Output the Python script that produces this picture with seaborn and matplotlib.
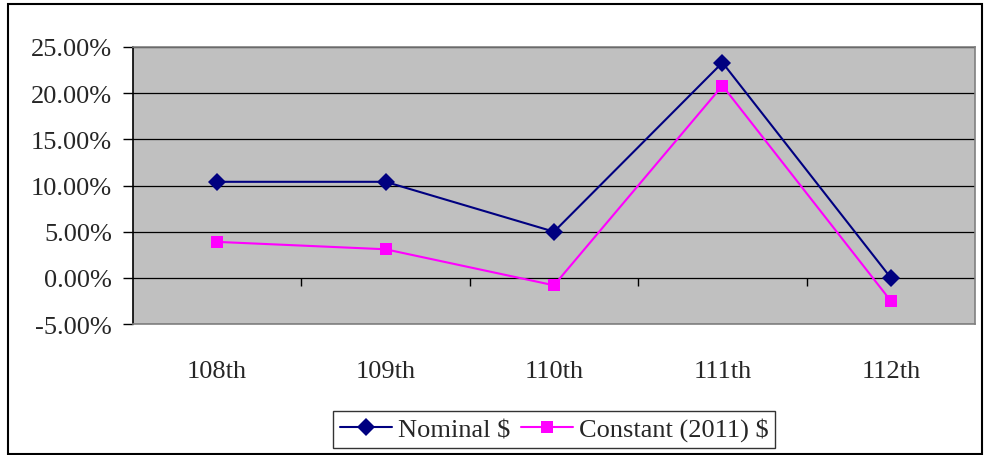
"""Nominal vs constant dollar change by congress"""

import pandas as pd
import matplotlib

matplotlib.use("Agg")
import matplotlib.pyplot as plt
import seaborn as sns
from matplotlib.patches import Rectangle
from matplotlib.ticker import FuncFormatter, MultipleLocator

congress = ["108th", "109th", "110th", "111th", "112th"]
nominal = [10.4, 10.4, 5.0, 23.3, 0.0]
constant_2011 = [3.9, 3.1, -0.8, 20.8, -2.5]

df = pd.DataFrame(
    {
        "congress": congress * 2,
        "value": nominal + constant_2011,
        "series": ["Nominal $"] * 5 + ["Constant (2011) $"] * 5,
    }
)

sns.set_style("white")
plt.rcParams["font.family"] = ["Liberation Serif", "DejaVu Serif"]

fig = plt.figure(figsize=(9.84, 4.56), dpi=100)
ax = fig.add_axes([0.135, 0.287, 0.856, 0.608])
ax.set_facecolor("#C0C0C0")

sns.lineplot(
    data=df,
    x="congress",
    y="value",
    hue="series",
    style="series",
    palette={"Nominal $": "#000080", "Constant (2011) $": "#FF00FF"},
    markers={"Nominal $": "D", "Constant (2011) $": "s"},
    dashes=False,
    markersize=9,
    markeredgewidth=0,
    linewidth=1.5,
    ax=ax,
    zorder=3,
)

ax.set_xlim(-0.5, 4.5)
ax.set_ylim(-5, 25)
ax.yaxis.set_major_locator(MultipleLocator(5))
ax.yaxis.set_major_formatter(FuncFormatter(lambda v, p: f"{v:.2f}%"))
ax.grid(axis="y", color="black", linewidth=0.9)
ax.set_axisbelow(True)
ax.set_xlabel("")
ax.set_ylabel("")

for side in ["top", "right", "bottom"]:
    ax.spines[side].set_color("#808080")
    ax.spines[side].set_linewidth(1.2)
ax.spines["left"].set_color("black")
ax.spines["left"].set_linewidth(1.2)

ax.tick_params(axis="y", direction="out", length=7, width=1, color="black",
               labelsize=19, pad=8, left=True)
ax.tick_params(axis="x", length=0, labelsize=19, pad=26)

# tick marks between categories on the zero line
sec = ax.secondary_xaxis(5 / 30)
sec.set_xticks([0.5, 1.5, 2.5, 3.5])
sec.set_xticklabels([])
sec.tick_params(direction="out", length=6, width=1, color="black")
sec.spines["bottom"].set_visible(False)

leg = ax.legend(
    loc="center",
    bbox_to_anchor=(0.5, -0.38),
    ncol=2,
    frameon=True,
    fontsize=19,
    handlelength=2.0,
    handletextpad=0.2,
    columnspacing=0.4,
    borderpad=0.25,
    borderaxespad=0,
    fancybox=False,
)
leg.get_frame().set_edgecolor("black")
leg.get_frame().set_linewidth(1.0)

fig.patches.append(
    Rectangle((0.008, 0.002), 0.99, 0.988, transform=fig.transFigure,
              fill=False, edgecolor="black", linewidth=1.5)
)

fig.savefig("out.png", dpi=100)
plt.close()
